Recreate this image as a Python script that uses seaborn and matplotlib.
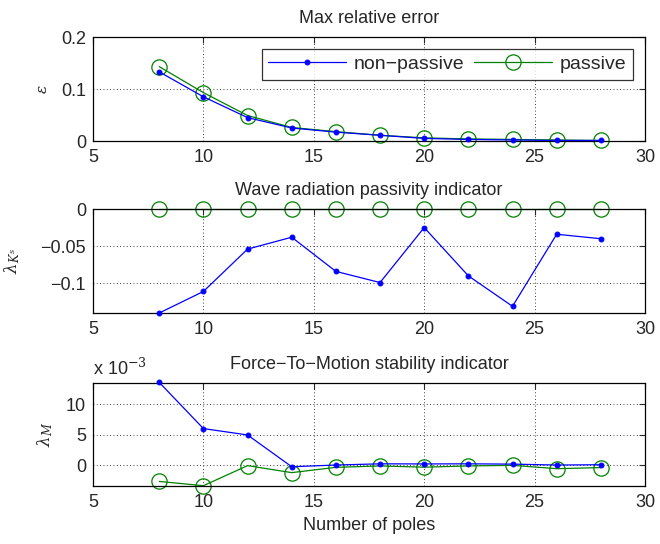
import numpy as np
import pandas as pd
import matplotlib
matplotlib.use("Agg")
import matplotlib.pyplot as plt
import seaborn as sns
from matplotlib.ticker import FuncFormatter

poles = [8, 10, 12, 14, 16, 18, 20, 22, 24, 26, 28]
err_nonpassive = [0.133, 0.085, 0.045, 0.025, 0.017, 0.011, 0.005, 0.003, 0.002, 0.001, 0.001]
err_passive = [0.143, 0.093, 0.049, 0.026, 0.018, 0.011, 0.006, 0.004, 0.003, 0.002, 0.001]
lk_nonpassive = [-0.140, -0.111, -0.054, -0.038, -0.084, -0.099, -0.025, -0.090, -0.131, -0.034, -0.040]
lk_passive = [0, 0, 0, 0, 0, 0, 0, 0, 0, 0, 0]
lm_nonpassive = [13.6e-3, 6.0e-3, 4.95e-3, -0.28e-3, 0.0, 0.2e-3, 0.18e-3, 0.2e-3, 0.15e-3, 0.0, 0.05e-3]
lm_passive = [-2.7e-3, -3.4e-3, -0.1e-3, -1.25e-3, -0.38e-3, -0.15e-3, -0.35e-3, -0.15e-3, -0.05e-3, -0.6e-3, -0.42e-3]

titles = ["Max relative error", "Wave radiation passivity indicator", "Force\u2212To\u2212Motion stability indicator"]
ylabels = [r"$\epsilon$", r"$\lambda_{K^s}$", r"$\lambda_M$"]
series_names = ["non\u2212passive", "passive"]

sns.set_style("white")
plt.rcParams["font.family"] = ["Liberation Sans", "DejaVu Sans"]
plt.rcParams["mathtext.fontset"] = "dejavuserif"
FS = 13

fig = plt.figure(figsize=(6.6, 5.44), dpi=100)
W, H = 660, 544
def rect(x0, y0, x1, y1):
    return [x0 / W, 1 - y1 / H, (x1 - x0) / W, (y1 - y0) / H]

axes = [fig.add_axes(rect(93, 37, 645, 141)),
        fig.add_axes(rect(93, 209, 645, 313)),
        fig.add_axes(rect(93, 383, 645, 486))]

data = [(err_nonpassive, err_passive), (lk_nonpassive, lk_passive), (lm_nonpassive, lm_passive)]
ylims = [(0, 0.2), (-0.14, 0), (-3.45e-3, 13.5e-3)]
yticks = [[0, 0.1, 0.2], [-0.1, -0.05, 0], [0, 5e-3, 10e-3]]
ylabel_sizes = [11, 12, 12]
ylabel_pads = [8, 13, 8]

blue = "#0000ff"
green = "#008000"

for i, ax in enumerate(axes):
    npv, pv = data[i]
    sns.lineplot(x=poles, y=npv, ax=ax, color=blue, marker="o", markersize=3.5,
                 markeredgecolor=blue, linewidth=0.9, label=series_names[0],
                 clip_on=False, zorder=3)
    sns.lineplot(x=poles, y=pv, ax=ax, color=green, marker="o", markersize=11,
                 markerfacecolor="none", markeredgecolor=green, markeredgewidth=0.9,
                 linewidth=0.9, label=series_names[1], clip_on=False, zorder=2)
    ax.set_xlim(5, 30)
    ax.set_xticks([5, 10, 15, 20, 25, 30])
    ax.set_ylim(*ylims[i])
    ax.set_yticks(yticks[i])
    ax.grid(True, color="black", linestyle=(0, (1, 3)), linewidth=0.6)
    ax.tick_params(direction="in", top=True, right=True, length=4, labelsize=FS, width=0.8)
    ax.tick_params(axis="x", pad=6)
    ax.tick_params(axis="y", pad=5)
    for s in ax.spines.values():
        s.set_visible(True)
        s.set_color("black")
        s.set_linewidth(0.9)
    ax.set_title(titles[i], fontsize=FS, pad=10)
    ax.set_ylabel(ylabels[i], fontsize=ylabel_sizes[i], labelpad=ylabel_pads[i])
    ax.set_xlabel("")
    if i == 0:
        leg = ax.legend(loc="upper right", fontsize=FS + 1, ncol=2, handlelength=4.0,
                        frameon=True, fancybox=False, borderaxespad=0.6,
                        columnspacing=0.5, handletextpad=0.4, borderpad=0.35)
        leg.get_frame().set_edgecolor("black")
        leg.get_frame().set_linewidth(0.9)
    else:
        ax.get_legend().remove()

axes[0].yaxis.set_major_formatter(FuncFormatter(lambda v, p: "0" if v == 0 else f"{v:g}"))
axes[1].yaxis.set_major_formatter(FuncFormatter(lambda v, p: "0" if v == 0 else f"{v:g}".replace("-", "\u2212")))
axes[2].yaxis.set_major_formatter(FuncFormatter(lambda v, p: f"{v * 1e3:.0f}"))
axes[2].set_xlabel("Number of poles", fontsize=FS)
axes[2].text(0.0, 1.04, r"x 10$^{-3}$", transform=axes[2].transAxes, fontsize=FS,
             ha="left", va="bottom")

fig.savefig("out.png", dpi=100)
